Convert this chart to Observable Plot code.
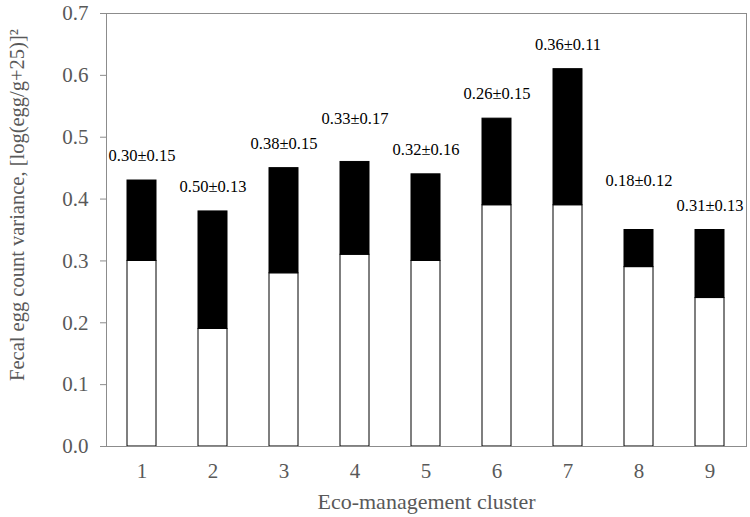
<!DOCTYPE html>
<html>
<head>
<meta charset="utf-8">
<script src="https://cdn.jsdelivr.net/npm/d3@7"></script>
<script src="https://cdn.jsdelivr.net/npm/@observablehq/plot@0.6"></script>
<style>
  html, body { margin: 0; padding: 0; background: white; }
  svg, svg text { font-family: "Liberation Serif", "Times New Roman", serif !important; font-variant: normal !important; }
</style>
</head>
<body>
<div id="chart"></div>
<script>
const clusters = ["1", "2", "3", "4", "5", "6", "7", "8", "9"];
const lowerPart = [0.30, 0.19, 0.28, 0.31, 0.30, 0.39, 0.39, 0.29, 0.24];
const totalHeight = [0.43, 0.38, 0.45, 0.46, 0.44, 0.53, 0.61, 0.35, 0.35];
const barLabels = ["0.30±0.15", "0.50±0.13", "0.38±0.15", "0.33±0.17", "0.32±0.16", "0.26±0.15", "0.36±0.11", "0.18±0.12", "0.31±0.13"];
const labelY = [0.47, 0.42, 0.49, 0.53, 0.48, 0.57, 0.65, 0.43, 0.39];
const yTicks = [0, 0.1, 0.2, 0.3, 0.4, 0.5, 0.6, 0.7];
const xTitle = "Eco-management cluster";
const yTitle = "Fecal egg count variance, [log(egg/g+25)]²";

const data = clusters.map((c, i) => ({
  cluster: c,
  low: lowerPart[i],
  total: totalHeight[i],
  label: barLabels[i],
  ly: labelY[i]
}));

const axisGray = "#8c8c8c";
const textGray = "#595959";
const serif = "Liberation Serif";

const chart = Plot.plot({
  width: 750,
  height: 517,
  marginLeft: 106,
  marginRight: 4,
  marginTop: 13,
  marginBottom: 71,
  x: { domain: clusters, paddingInner: 0.59, paddingOuter: 0.295, axis: null },
  y: { domain: [0, 0.7], axis: null },
  style: { fontFamily: serif, background: "white" },
  marks: [
    Plot.frame({ stroke: axisGray }),
    Plot.barY(data, { x: "cluster", y1: 0, y2: "low", fill: "white", stroke: "black", strokeWidth: 1 }),
    Plot.barY(data, { x: "cluster", y1: "low", y2: "total", fill: "black", stroke: "black", strokeWidth: 1 }),
    Plot.ruleY([0], { stroke: axisGray }),
    Plot.text(data, { x: "cluster", y: "ly", text: "label", fontSize: 16.5, fontFamily: serif, fill: "black", lineAnchor: "middle" }),
    Plot.axisY(yTicks, { tickSize: 6, tickPadding: 12, tickFormat: d => d.toFixed(1), fontSize: 21, fontFamily: serif, stroke: axisGray, fill: textGray, label: null }),
    Plot.axisX(clusters, { tickSize: 0, tickPadding: 17, fontSize: 21, fontFamily: serif, fill: textGray, label: null }),
    Plot.text([xTitle], { text: d => d, frameAnchor: "bottom", textAnchor: "middle", dy: 55, lineAnchor: "middle", fontSize: 22, fontFamily: serif, fill: textGray }),
    Plot.text([yTitle], { text: d => d, frameAnchor: "left", textAnchor: "middle", rotate: -90, dx: -89, dy: -25, lineAnchor: "middle", fontSize: 20.5, fontFamily: serif, fill: textGray })
  ]
});

document.getElementById("chart").appendChild(chart);
</script>
</body>
</html>
